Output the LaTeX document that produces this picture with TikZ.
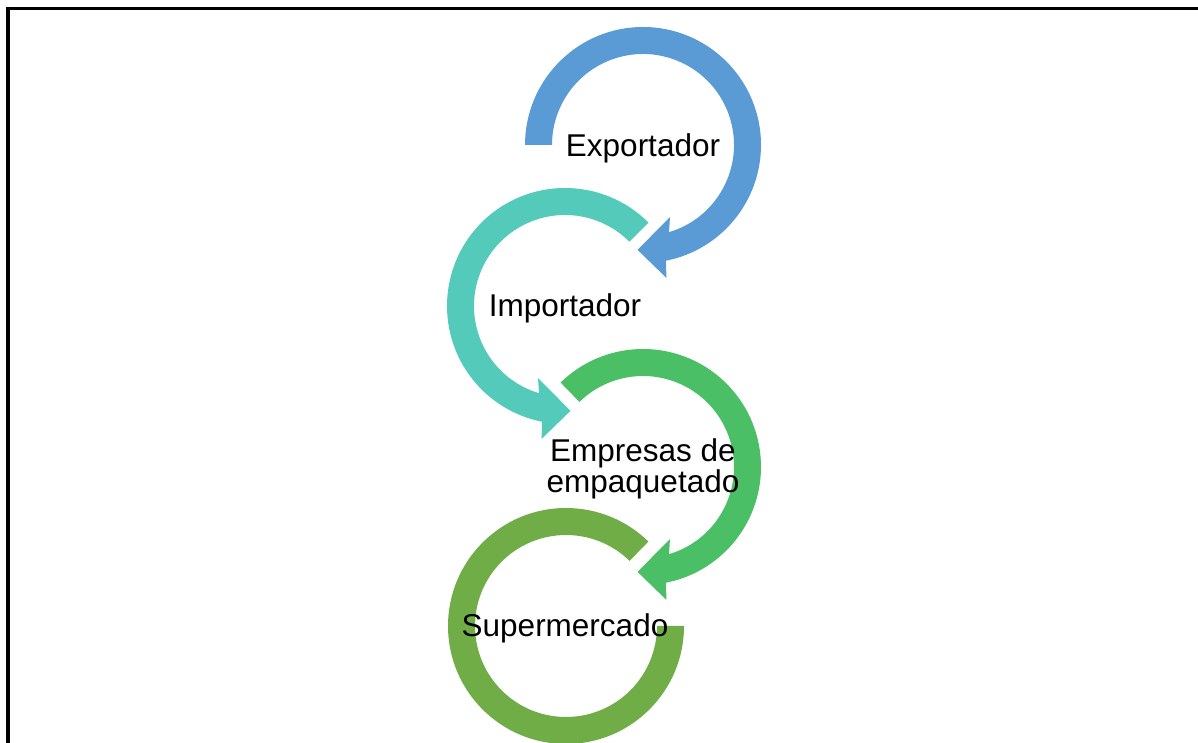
\documentclass[tikz,border=0pt]{standalone}
\usepackage{fontspec}
\setmainfont{Liberation Sans}
\usepackage{xcolor}
\usepackage{tikz}
\usetikzlibrary{calc}

\definecolor{ringblue}{HTML}{5B9BD5}
\definecolor{ringteal}{HTML}{54CABA}
\definecolor{ringgreen}{HTML}{4BBF65}
\definecolor{ringolive}{HTML}{70AD47}

\begin{document}
\begin{tikzpicture}[x=1pt,y=1pt,
                    label node/.style={font=\fontsize{31.5}{31}\selectfont,inner sep=0pt,align=center}]

    \useasboundingbox (0,0) rectangle (1198,743);
    \draw[line width=3.5pt] (8,-20) rectangle (1220,734.7);

    \coordinate (c1) at (643,598);
    \coordinate (c2) at (565,437);
    \coordinate (c3) at (643,276);
    \coordinate (c4) at (566,117);

    % rings, outer radius 118, inner radius 91
    \fill[ringblue,shift={(c1)}] (180:118) arc[start angle=180,end angle=-78.8,radius=118]
        -- (-80:135) -- (-93:105) -- (-69.5:77) -- (-73.4:91)
        arc[start angle=-73.4,end angle=180,radius=91] -- cycle;
    \fill[ringteal,shift={(c2)}] (45:118) arc[start angle=45,end angle=258.8,radius=118]
        -- (260:135) -- (273:105) -- (249.5:77) -- (253.4:91)
        arc[start angle=253.4,end angle=45,radius=91] -- cycle;
    \fill[ringgreen,shift={(c3)}] (134.3:118) arc[start angle=134.3,end angle=-78.8,radius=118]
        -- (-80:135) -- (-93:105) -- (-69.5:77) -- (-73.4:91)
        arc[start angle=-73.4,end angle=134.3,radius=91] -- cycle;
    \fill[ringolive,shift={(c4)}] (0:118) arc[start angle=0,end angle=-314.3,radius=118]
        -- (-314.3:91) arc[start angle=-314.3,end angle=0,radius=91] -- cycle;

    \node[label node,anchor=base] (expo) at ($(c1)+(0,-12)$) {Exportador};
    \node[label node,anchor=base] (impo) at ($(c2)+(0,-11)$) {Importador};
    \node[label node] (empa) at ($(c3)+(0,-2)$) {Empresas de\\empaquetado};
    \node[label node,anchor=base] (super) at ($(c4)+(-1,-11)$) {Supermercado};
\end{tikzpicture}
\end{document}
